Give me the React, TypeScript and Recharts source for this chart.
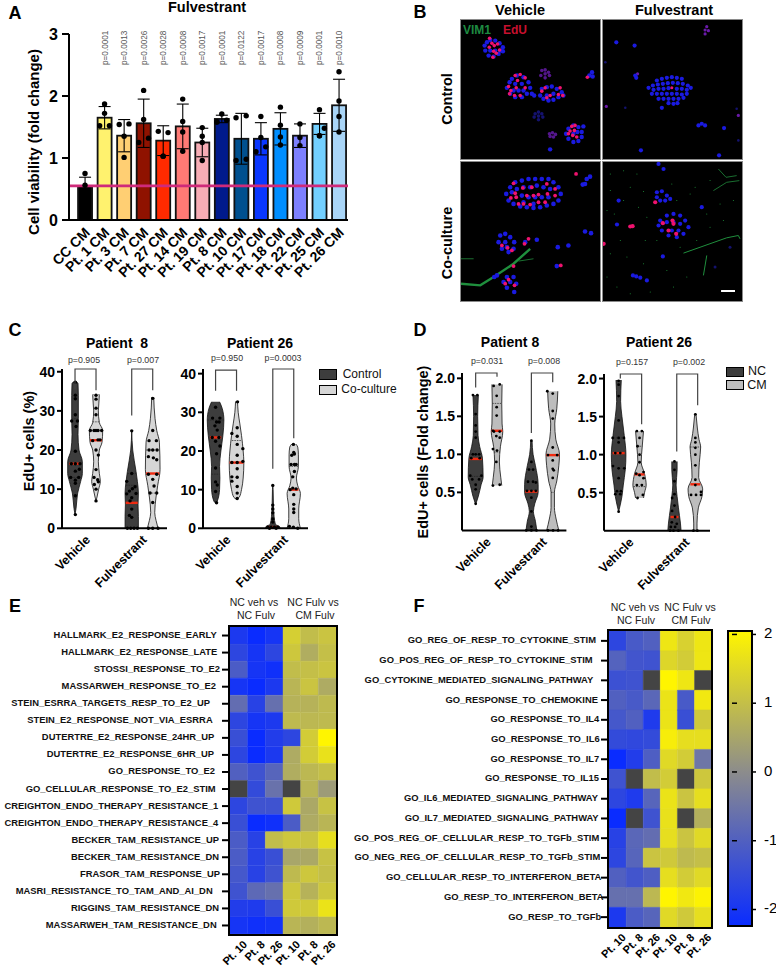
import React from "react";
import {
  Area,
  Bar,
  BarChart,
  Cell,
  ComposedChart,
  ErrorBar,
  ReferenceLine,
  Scatter,
  ScatterChart,
  XAxis,
  YAxis,
} from "recharts";

type Pair = [number, number];

// ---------- panel A ----------
const A_LABELS = ["CC CM", "Pt. 1 CM", "Pt. 3 CM", "Pt. 7 CM", "Pt. 27 CM", "Pt. 14 CM", "Pt. 19 CM", "Pt. 8 CM", "Pt. 10 CM", "Pt. 17 CM", "Pt. 18 CM", "Pt. 22 CM", "Pt. 25 CM", "Pt. 26 CM"];
const A_MEANS = [0.55, 1.65, 1.36, 1.56, 1.28, 1.51, 1.25, 1.63, 1.31, 1.31, 1.47, 1.36, 1.55, 1.85];
const A_SD = [0.14, 0.18, 0.26, 0.39, 0.24, 0.36, 0.23, 0.06, 0.41, 0.26, 0.26, 0.19, 0.17, 0.42];
const A_COLORS = ["#000000", "#fff26e", "#ffcf73", "#8f1200", "#ff2a00", "#ff7a75", "#f7adb5", "#001a8c", "#00508f", "#0a37ff", "#008eff", "#7d80ff", "#73d0ff", "#a9d5f7"];
const A_PVALUES = ["", "p=0.0001", "p=0.0013", "p=0.0026", "p=0.0028", "p=0.0008", "p=0.0017", "p=0.0001", "p=0.0122", "p=0.0017", "p=0.0008", "p=0.0009", "p=0.0001", "p=0.0010"];
const A_DOTS: Pair[][] = [
  [[0, 0.75], [0, 0.56]],
  [[0, 1.87], [0, 1.72], [-0.25, 1.52], [0.25, 1.52]],
  [[-0.25, 1.54], [0.25, 1.55], [0, 1.35], [0, 1.01]],
  [[0, 2.09], [0, 1.62], [-0.25, 1.25], [0.25, 1.32]],
  [[-0.25, 1.43], [0.25, 1.41], [0, 1.03], [0, 1.03]],
  [[0, 1.95], [0, 1.59], [0, 1.42], [0, 1.11]],
  [[0, 1.49], [0, 1.35], [0, 1.25], [0, 0.96]],
  [[0, 1.71], [-0.25, 1.58], [0.25, 1.61], [-0.25, 1.58]],
  [[-0.27, 1.65], [0.25, 1.68], [-0.27, 0.96], [0.25, 0.98]],
  [[0, 1.67], [0, 1.33], [0.25, 1.18], [-0.25, 1.1]],
  [[0, 1.82], [0, 1.53], [0, 1.34], [0, 1.21]],
  [[0, 1.55], [0, 1.33], [0, 1.2]],
  [[0, 1.78], [0.25, 1.48], [0, 1.36], [0, 1.36]],
  [[0, 2.39], [0, 1.92], [0, 1.67], [0, 1.42]],
];

// ---------- panels C and D: violin outlines are [value, half width], dots are [offset, value] ----------
interface Violin {
  pos: number;
  outline: Pair[];
  dots: Pair[];
  median: Pair;
  quartiles: Pair[];
}

const C8: Violin[] = [
  {
    pos: 1,
    outline: [[37.5, 3], [37, 9], [34, 10], [28, 10], [24, 9], [20, 12], [17, 22], [14, 22], [12, 17], [9, 8], [5, 3], [3.5, 0]],
    dots: [[1, 37.3], [1, 34], [1, 33.1], [1, 29], [-10, 27.4], [7, 27.4], [3, 26], [1, 19.7], [-11, 16.5], [1, 16.5], [15, 16.5], [13, 15.1], [1, 14.6], [-13, 13], [11, 13], [1, 12.3], [1, 11.5], [1, 8.3], [1, 3.5]],
    median: [16.5, 17],
    quartiles: [[28, 10], [13, 20]],
  },
  {
    pos: 2,
    outline: [[34.3, 8], [34, 10], [30, 7], [27, 10], [25, 20], [22, 18], [20, 10], [17, 7], [14, 10], [12, 13], [10, 8], [8, 3], [7, 0]],
    dots: [[0, 34], [0, 33], [0, 30.7], [0, 29], [-17, 25], [-6, 25], [6, 25], [17, 25], [0, 25], [-10, 22.4], [6, 22.6], [12, 22.6], [0, 20], [7, 18.7], [0, 15], [-6, 13], [5, 12.4], [7, 11.9], [-5, 11.2], [0, 10], [0, 7]],
    median: [22.5, 18],
    quartiles: [[27.2, 10]],
  },
  {
    pos: 3.7,
    outline: [[25, 0], [20, 3], [14.5, 13], [12, 17], [9, 20], [6, 19], [3, 20], [0, 20]],
    dots: [[0, 24.9], [0, 14], [-15, 12], [10, 10.6], [2, 10.1], [-7, 9.5], [13, 8.9], [-15, 8.8], [0, 7.8], [-5, 7], [0, 4.9], [-7, 3.3], [0, 2.8], [-13, 0], [-3, 0], [7, 0], [17, 0]],
    median: [6.5, 18],
    quartiles: [[14, 13], [11, 17]],
  },
  {
    pos: 4.7,
    outline: [[33.5, 3], [28, 7], [25, 12], [22, 20], [15, 22], [11, 15], [8, 10], [4, 6], [2, 10], [0, 16]],
    dots: [[0, 33.2], [0, 25], [-11, 22.4], [11, 22.4], [-11, 20], [0, 20], [13, 20], [-13, 18.3], [2, 18], [12, 17.5], [-13, 13.8], [12, 13.8], [0, 12.5], [4, 10.8], [-8, 9], [12, 9], [0, 6.6], [-13, 0], [0, 0], [16, 0]],
    median: [14, 20],
    quartiles: [[20, 20], [9, 12]],
  },
];

const C26: Violin[] = [
  {
    pos: 1,
    outline: [[32.7, 12], [31, 20], [28, 25], [24, 22], [20, 16], [16, 12], [13, 13], [10, 12], [7, 5], [6.5, 0]],
    dots: [[0, 31.3], [-9, 28.5], [13, 28.5], [3, 27.5], [11, 27.5], [-2, 26.5], [5, 25.4], [-10, 23.5], [10, 23.5], [0, 22.5], [13, 21.3], [3, 19.3], [0, 15.6], [0, 12], [5, 11.2], [0, 9.5], [3, 6.6]],
    median: [23.5, 17],
    quartiles: [[28, 24], [14, 12]],
  },
  {
    pos: 2,
    outline: [[32.8, 3], [30, 5], [27, 10], [24, 15], [20, 20], [17, 22], [13, 20], [10, 15], [8, 8], [7.5, 0]],
    dots: [[3, 32.7], [2, 26], [-14, 24.5], [2, 23.8], [2, 21.7], [19, 20.6], [2, 18.9], [-14, 17], [2, 17], [19, 17.3], [2, 15.4], [-14, 13.3], [2, 13.2], [-14, 12.2], [2, 10.8], [2, 9.1], [2, 7.7]],
    median: [17, 21],
    quartiles: [[22.7, 14]],
  },
  {
    pos: 3.73,
    outline: [[11, 0], [10, 1], [6, 2], [3, 4], [1, 8], [0.5, 20], [0, 22]],
    dots: [[0, 11.1], [0, 6], [0, 5], [0, 4], [0, 2.4], [0, 1.6], [-15, 0.3], [-5, 0.3], [5, 0.3], [15, 0.3], [-10, 0], [10, 0]],
    median: [0.3, 18],
    quartiles: [],
  },
  {
    pos: 4.73,
    outline: [[21.8, 6], [21, 12], [19, 14], [16, 14], [13, 8], [11, 12], [9, 20], [5, 15], [2.5, 15], [0, 20]],
    dots: [[-1, 21.7], [0, 19.6], [-6, 18.9], [2, 19.2], [-8, 16.5], [2, 16.5], [7, 16.5], [2, 14.7], [-3, 13.3], [-3, 10.4], [-11, 10], [7, 10.2], [0, 8.7], [0, 6.2], [0, 5], [0, 4.1], [-13, 0.5], [-1, 0.3], [12, 0]],
    median: [10, 14],
    quartiles: [[16, 14]],
  },
];

const D8: Violin[] = [
  {
    pos: 1,
    outline: [[1.78, 8], [1.5, 6], [1.25, 7], [1.1, 12], [0.95, 20], [0.7, 22], [0.6, 16], [0.45, 8], [0.34, 0]],
    dots: [[-8, 1.78], [5, 1.78], [0, 1.53], [0, 1.38], [0, 1.3], [0, 1.22], [-8, 1], [0, 1], [10, 1], [-13, 0.95], [12, 0.95], [-16, 0.72], [17, 0.72], [-10, 0.67], [10, 0.67], [0, 0.6], [0, 0.54], [0, 0.35]],
    median: [0.94, 18],
    quartiles: [[1, 16], [0.71, 20]],
  },
  {
    pos: 2,
    outline: [[1.92, 15], [1.67, 14], [1.4, 15], [1.3, 17], [1.1, 10], [0.9, 7], [0.7, 11], [0.59, 14]],
    dots: [[-10, 1.9], [8, 1.92], [-1, 1.77], [-1, 1.62], [-1, 1.51], [-9, 1.3], [8, 1.3], [-12, 1.31], [-2, 1.24], [8, 1.22], [-12, 1.07], [0, 1.05], [-2, 0.9], [-12, 0.59], [8, 0.6]],
    median: [1.31, 16],
    quartiles: [[1.67, 14], [1.03, 9]],
  },
  {
    pos: 3.61,
    outline: [[1.18, 2], [1, 5], [0.85, 12], [0.6, 20], [0.5, 20], [0.35, 10], [0.25, 6], [0.12, 12], [0, 16]],
    dots: [[0, 1.18], [0, 0.9], [-7, 0.8], [5, 0.8], [-10, 0.64], [5, 0.64], [13, 0.63], [-13, 0.52], [0, 0.52], [13, 0.52], [0, 0.43], [0, 0.25], [0, 0.05], [-15, 0], [0, 0], [15, 0]],
    median: [0.51, 18],
    quartiles: [],
  },
  {
    pos: 4.61,
    outline: [[1.83, 15], [1.6, 12], [1.4, 6], [1.2, 9], [1, 20], [0.85, 18], [0.65, 12], [0.5, 5], [0.3, 5], [0.15, 10], [0, 18]],
    dots: [[-16, 1.83], [0, 1.8], [0, 1.57], [0, 1.47], [0, 1.09], [-14, 0.99], [13, 0.99], [0, 0.92], [0, 0.81], [3, 0.79], [0, 0.69], [-14, 0], [1, 0], [16, 0]],
    median: [0.99, 19],
    quartiles: [[0.5, 5]],
  },
];

const D26: Violin[] = [
  {
    pos: 1,
    outline: [[1.98, 8], [1.7, 6], [1.5, 10], [1.25, 17], [1, 22], [0.8, 20], [0.6, 14], [0.45, 10], [0.25, 0]],
    dots: [[0, 1.97], [0, 1.92], [0, 1.77], [0, 1.45], [-18, 1.22], [0, 1.22], [16, 1.22], [0, 1.16], [-10, 1.02], [5, 1.02], [-17, 0.85], [17, 0.82], [0, 0.82], [0, 0.69], [-5, 0.52], [7, 0.52], [-10, 0.48], [5, 0.48], [0, 0.25]],
    median: [1.02, 18],
    quartiles: [[1.22, 16]],
  },
  {
    pos: 2,
    outline: [[1.31, 12], [1.1, 8], [0.9, 5], [0.75, 15], [0.6, 20], [0.5, 15], [0.43, 12]],
    dots: [[-8, 1.31], [7, 1.31], [0, 1.22], [-6, 1.11], [0, 1], [0, 0.9], [-10, 0.75], [12, 0.77], [0, 0.73], [12, 0.69], [-8, 0.6], [7, 0.6], [-6, 0.43], [10, 0.47]],
    median: [0.74, 15],
    quartiles: [[1.11, 8], [0.58, 18]],
  },
  {
    pos: 3.67,
    outline: [[0.91, 8], [0.8, 8], [0.6, 5], [0.45, 8], [0.3, 12], [0.1, 18], [0, 20]],
    dots: [[0, 0.91], [0, 0.8], [0, 0.65], [0, 0.48], [-7, 0.43], [0, 0.33], [-7, 0.26], [2, 0.18], [-8, 0.11], [7, 0.09], [-11, 0.05], [2, 0.05], [-13, 0], [-3, 0], [12, 0]],
    median: [0.18, 12],
    quartiles: [],
  },
  {
    pos: 4.67,
    outline: [[1.53, 2], [1.35, 6], [1.2, 11], [1.1, 16], [0.9, 12], [0.7, 10], [0.55, 22], [0.45, 20], [0.3, 9], [0.1, 5], [0, 5]],
    dots: [[0, 1.53], [0, 1.22], [0, 1.16], [0, 1.09], [0, 1], [0, 0.86], [0, 0.67], [0, 0.6], [-13, 0.47], [2, 0.47], [17, 0.47], [17, 0.51], [-6, 0], [6, 0]],
    median: [0.61, 15],
    quartiles: [[1.1, 16]],
  },
];

// [left pos, right pos, top, left leg end, right leg end]
const C8_BRACKETS = [[1, 2, 40.7, 35.6, 35.3], [3.7, 4.7, 40.7, 28.8, 35.3]];
const C26_BRACKETS = [[1, 2, 40.9, 35.6, 35.6], [3.73, 4.73, 41.2, 15.4, 23.3]];
const D8_BRACKETS = [[1, 2, 2.07, 1.88, 2.02], [3.61, 4.61, 2.07, 1.28, 1.95]];
const D26_BRACKETS = [[1.08, 2.1, 2.06, 2.0, 1.4], [3.78, 4.78, 2.06, 1.04, 1.65]];

// ---------- panels E and F ----------
const E_LABELS = ["HALLMARK_E2_RESPONSE_EARLY", "HALLMARK_E2_RESPONSE_LATE", "STOSSI_RESPONSE_TO_E2", "MASSARWEH_RESPONSE_TO_E2", "STEIN_ESRRA_TARGETS_RESP_TO_E2_UP", "STEIN_E2_RESPONSE_NOT_VIA_ESRRA", "DUTERTRE_E2_RESPONSE_24HR_UP", "DUTERTRE_E2_RESPONSE_6HR_UP", "GO_RESPONSE_TO_E2", "GO_CELLULAR_RESPONSE_TO_E2_STIM", "CREIGHTON_ENDO_THERAPY_RESISTANCE_1", "CREIGHTON_ENDO_THERAPY_RESISTANCE_4", "BECKER_TAM_RESISTANCE_UP", "BECKER_TAM_RESISTANCE_DN", "FRASOR_TAM_RESPONSE_UP", "MASRI_RESISTANCE_TO_TAM_AND_AI_DN", "RIGGINS_TAM_RESISTANCE_DN", "MASSARWEH_TAM_RESISTANCE_DN"];
const E_LABEL_END = [650, 652, 660, 648, 630, 638, 643, 642, 645, 647, 655, 655, 657, 657, 660, 638, 657, 650];
const E_VALUES: (number | null)[][] = [
  [-1.9, -2.2, -2.0, 1.3, 0.95, 1.1],
  [-1.6, -2.0, -1.6, 1.15, 0.65, 1.0],
  [-1.1, -2.0, -2.1, 0.95, 1.0, 1.1],
  [-2.0, -2.2, -1.9, 0.8, 1.1, 0.6],
  [-0.7, -1.7, -0.65, 0.75, 0.75, 0.9],
  [-1.6, -2.0, -1.9, 0.9, 0.85, 0.9],
  [-1.4, -2.2, -1.8, -1.6, 1.25, 2.05],
  [-1.6, -2.2, -1.9, 0.6, 1.25, 1.65],
  [-1.0, -1.3, -0.9, 0.65, 0.85, 1.0],
  [null, -1.5, -0.6, null, 0.8, 0.3],
  [-1.6, -1.3, -1.3, 1.2, 0.55, 1.05],
  [-1.4, -2.2, -2.1, -1.1, 0.6, 0.8],
  [-1.1, -1.7, 0.95, 1.15, 1.1, 1.6],
  [-1.1, -1.7, -1.4, 0.5, 0.55, 1.05],
  [-1.2, -1.7, -1.3, 0.9, 1.15, 1.0],
  [-1.3, -0.8, -0.65, 1.15, 0.75, 1.15],
  [-1.8, -1.85, -1.4, 1.2, 1.2, 1.7],
  [-2.0, -2.1, -2.05, 0.8, 0.7, 0.85],
];

const F_LABELS = ["GO_REG_OF_RESP_TO_CYTOKINE_STIM", "GO_POS_REG_OF_RESP_TO_CYTOKINE_STIM", "GO_CYTOKINE_MEDIATED_SIGNALING_PATHWAY", "GO_RESPONSE_TO_CHEMOKINE", "GO_RESPONSE_TO_IL4", "GO_RESPONSE_TO_IL6", "GO_RESPONSE_TO_IL7", "GO_RESPONSE_TO_IL15", "GO_IL6_MEDIATED_SIGNALING_PATHWAY", "GO_IL7_MEDIATED_SIGNALING_PATHWAY", "GO_POS_REG_OF_CELLULAR_RESP_TO_TGFb_STIM", "GO_NEG_REG_OF_CELLULAR_RESP_TO_TGFb_STIM", "GO_CELLULAR_RESP_TO_INTERFERON_BETA", "GO_RESP_TO_INTERFERON_BETA", "GO_RESP_TO_TGFb"];
const F_LABEL_END = [587, 577, 579, 593, 597, 598, 597, 596, 593, 595, 597, 600, 603, 610, 603];
const F_VALUES: (number | null)[][] = [
  [-1.6, -1.15, -1.0, 1.75, 1.35, 1.75],
  [-0.95, -1.25, -1.3, 1.45, 1.25, 1.75],
  [-1.35, -1.3, null, 2.05, 1.75, null],
  [-1.0, -1.15, -0.85, 1.7, -1.15, 1.8],
  [-1.2, -1.0, -1.85, 1.7, -1.4, 1.2],
  [-1.5, -1.55, -1.5, 1.9, 1.6, 1.6],
  [-2.2, -1.8, -1.05, 1.5, 1.25, -0.5],
  [-1.3, null, 0.95, 1.25, null, 1.15],
  [-1.6, -1.85, -0.9, 1.7, 1.1, 1.6],
  [-2.2, null, -1.3, 1.65, null, 0.7],
  [-1.7, -0.85, -0.7, 1.6, 1.1, 1.5],
  [-1.6, -0.9, 1.1, 1.2, 0.9, 1.0],
  [-1.0, -1.25, -1.05, 1.6, 1.25, 1.5],
  [-0.65, -0.65, 0.85, 2.05, 1.8, 2.0],
  [-1.9, -1.1, -0.9, 1.5, 1.2, 1.6],
];
const HEAT_COLUMNS = ["Pt. 10", "Pt. 8", "Pt. 26", "Pt. 10", "Pt. 8", "Pt. 26"];
const SCALE_TICKS = [2, 1, 0, -1, -2];
const SCALE_RANGE: Pair = [-2.24, 2.05];

// ---------- panel B: nuclei positions ----------
const TL_BLUE: Pair[] = [[290, 125], [300, 118], [315, 120], [328, 128], [338, 140], [338, 152], [325, 160], [310, 168], [295, 165], [285, 150], [283, 135], [300, 150], [315, 150], [330, 150], [365, 235], [380, 225], [400, 230], [415, 245], [420, 262], [410, 280], [395, 290], [375, 290], [360, 280], [350, 262], [358, 245], [375, 250], [395, 250], [400, 270], [385, 270], [370, 270], [455, 265], [470, 260], [485, 258], [500, 265], [515, 275], [520, 285], [505, 290], [490, 298], [475, 300], [460, 295], [450, 285], [470, 285], [490, 280], [432, 285], [425, 280], [535, 385], [550, 375], [565, 380], [575, 395], [575, 410], [565, 422], [550, 425], [535, 415], [528, 400], [550, 400], [562, 395], [606, 215], [608, 228], [598, 225], [480, 447], [580, 378]];
const TL_PINK: Pair[] = [[298, 113], [305, 128], [322, 130], [312, 135], [297, 140], [310, 152], [328, 148], [308, 170], [318, 158], [375, 225], [390, 222], [405, 232], [382, 240], [355, 258], [378, 262], [358, 280], [373, 285], [390, 285], [405, 262], [362, 270], [455, 272], [510, 262], [480, 285], [505, 282], [470, 292], [518, 285], [465, 262], [545, 378], [555, 375], [553, 390], [540, 392], [548, 405], [560, 410], [535, 400], [592, 230]];
const TL_PURPLE: Pair[] = [[455, 210], [465, 208], [475, 215], [478, 225], [465, 232], [452, 225], [465, 220], [478, 400], [487, 397], [496, 402], [490, 410], [480, 408]];
const TL_DIM: Pair[] = [[435, 340], [445, 335], [455, 340], [458, 350], [445, 358], [432, 350], [445, 347]];

const TR_BLUE: Pair[] = [[800, 240], [815, 235], [830, 232], [845, 230], [860, 232], [875, 235], [788, 255], [803, 252], [818, 250], [833, 248], [848, 247], [863, 248], [878, 250], [893, 255], [775, 262], [790, 268], [805, 265], [820, 265], [835, 263], [860, 265], [875, 265], [890, 268], [902, 262], [785, 280], [800, 280], [815, 280], [830, 280], [845, 280], [860, 280], [875, 282], [890, 280], [805, 295], [820, 295], [835, 295], [850, 295], [865, 295], [880, 292], [835, 308], [850, 310], [862, 308], [815, 322], [678, 125], [733, 135], [735, 225], [738, 232], [935, 370], [925, 375], [945, 375], [1002, 383], [987, 465], [752, 450]];
const TR_PINK: Pair[] = [[845, 262]];
const TR_PURPLE: Pair[] = [[742, 220], [648, 318], [945, 88], [955, 90], [945, 100], [950, 78], [1045, 345]];
const TR_DIM: Pair[] = [[1040, 325], [1045, 420], [645, 185], [705, 322]];

const BL_BLUE: Pair[] = [[360, 560], [375, 545], [395, 540], [415, 535], [435, 535], [455, 535], [475, 535], [490, 545], [505, 560], [512, 580], [505, 600], [490, 610], [470, 615], [450, 620], [430, 622], [410, 620], [390, 618], [370, 610], [355, 600], [348, 580], [380, 565], [400, 560], [420, 560], [440, 555], [460, 560], [480, 565], [395, 585], [415, 590], [435, 590], [455, 590], [475, 590], [400, 605], [430, 610], [365, 575], [330, 705], [345, 700], [360, 710], [372, 725], [370, 745], [355, 755], [335, 745], [325, 725], [345, 725], [350, 740], [405, 725], [440, 718], [585, 693], [603, 698], [503, 740], [535, 735], [500, 797], [590, 535], [600, 528], [585, 550], [578, 552], [340, 845], [350, 830], [370, 830], [378, 850], [372, 875], [350, 862], [360, 845], [320, 825], [312, 830]];
const BL_PINK: Pair[] = [[370, 548], [375, 578], [362, 592], [398, 562], [425, 560], [470, 550], [495, 565], [378, 590], [410, 585], [430, 585], [445, 582], [472, 580], [420, 612], [400, 610], [385, 610], [445, 605], [465, 605], [495, 585], [335, 735], [352, 742], [365, 750], [415, 715], [403, 730], [512, 795], [558, 520], [370, 797], [355, 838], [373, 855], [345, 850]];
const BL_FIBER_A: Pair[] = [[212, 850], [270, 855], [310, 830], [370, 790], [420, 745]];
const BL_FIBER_B: Pair[] = [[212, 775], [250, 775]];
const BL_FIBER_C: Pair[] = [[385, 782], [430, 775]];

const BR_BLUE: Pair[] = [[810, 660], [830, 645], [850, 640], [870, 645], [885, 660], [895, 680], [880, 700], [860, 710], [835, 705], [815, 690], [805, 675], [830, 665], [850, 665], [870, 670], [845, 690], [865, 690], [800, 575], [815, 572], [830, 585], [840, 595], [810, 600], [825, 600], [800, 590], [685, 600], [935, 620], [818, 768], [738, 828], [728, 825], [750, 832], [770, 840], [820, 505], [805, 490], [680, 672]];
const BR_PINK: Pair[] = [[818, 668], [847, 660], [850, 670], [835, 690], [858, 700], [795, 605], [727, 677], [720, 678], [640, 730]];
const BR_DIM: Pair[] = [[1020, 740], [975, 800]];
const BR_SPECKS: Pair[] = [[660, 570], [700, 600], [760, 573], [650, 630], [672, 640], [720, 560], [745, 620], [770, 650], [690, 720], [660, 760], [710, 770], [765, 720], [760, 790], [800, 720], [860, 600], [900, 580], [950, 640], [990, 610], [960, 680], [1000, 660], [1030, 600], [920, 720], [870, 740], [830, 810], [890, 830], [850, 860], [680, 860], [650, 830], [720, 880], [780, 875], [915, 560], [845, 550], [740, 520], [700, 510], [660, 520], [960, 540]];
const BR_FIBER_A: Pair[] = [[880, 758], [1010, 712], [1045, 705], [1050, 715]];
const BR_FIBER_B: Pair[] = [[950, 765], [940, 825]];
const BR_FIBER_C: Pair[] = [[970, 570], [1010, 545], [1048, 540]];
const BR_FIBER_D: Pair[] = [[985, 505], [1008, 530], [1040, 525]];

// ---------- helpers ----------
const FONT = "'Liberation Sans', Arial, sans-serif";
const DARK = "#3d3d3d";
const LIGHT_C = "#d6d6d6";
const LIGHT_D = "#bdbdbd";
const MISSING = "#444444";

const mix = (a: number[], b: number[], t: number) => {
  const c = a.map((v, i) => Math.round(v + (b[i] - v) * t));
  return `rgb(${c[0]},${c[1]},${c[2]})`;
};
const heatColor = (z: number | null) => {
  if (z === null) return MISSING;
  const blue = [10, 44, 255];
  const gray = [140, 140, 140];
  const yellow = [255, 245, 0];
  return z < 0 ? mix(gray, blue, Math.min(-z / 2.2, 1)) : mix(gray, yellow, Math.min(z / 2.05, 1));
};

const toXY = (pts: Pair[]) => pts.map(([x, y]) => ({ x, y }));
const dot = (r: number, fill: string) => (p: any) => <circle cx={p.cx} cy={p.cy} r={r} fill={fill} />;
const noDot = () => <g />;

function Txt({ x, y, size, bold, color = "#000", rotate = 0, children }: any) {
  return (
    <div
      style={{
        position: "absolute",
        left: x,
        top: y,
        fontSize: size,
        fontWeight: bold ? 700 : 400,
        color,
        whiteSpace: "pre",
        lineHeight: 1,
        transform: `translate(-50%,-50%) rotate(${rotate}deg)`,
      }}
    >
      {children}
    </div>
  );
}

function Box({ left, top, width, height, children }: any) {
  return <div style={{ position: "absolute", left, top, width, height }}>{children}</div>;
}

// ---------- panel A ----------
function BarPanel() {
  const bars = A_LABELS.map((label, i) => ({ x: i, label, mean: A_MEANS[i], sd: A_SD[i] }));
  const dots = A_DOTS.flatMap((row, i) => row.map(([dx, y]) => ({ x: i + dx, y })));
  const pLabels = A_PVALUES.map((p, i) => ({ x: i, y: 2.5, p }));
  return (
    <Box left={9} top={24} width={345} height={286}>
      <ComposedChart width={345} height={286} data={bars} margin={{ top: 10, right: 6, bottom: 0, left: 0 }}>
        <XAxis
          dataKey="x"
          type="number"
          domain={[-0.82, 13.46]}
          ticks={bars.map((b) => b.x)}
          interval={0}
          height={90}
          tickLine={false}
          axisLine={{ stroke: "#000", strokeWidth: 2 }}
          tick={(p: any) => (
            <text
              transform={`translate(${p.x + 3},${p.y + 3}) rotate(-45)`}
              textAnchor="end"
              dominantBaseline="middle"
              fontSize={14}
              fontWeight={700}
              fill="#000"
            >
              {A_LABELS[p.payload.value]}
            </text>
          )}
        />
        <YAxis
          dataKey="y"
          type="number"
          domain={[0, 3]}
          ticks={[0, 1, 2, 3]}
          width={60}
          tickSize={7}
          tickMargin={4}
          axisLine={{ stroke: "#000", strokeWidth: 2 }}
          tickLine={{ stroke: "#000", strokeWidth: 2 }}
          tick={{ fontSize: 16, fontWeight: 700, fill: "#000" }}
        />
        <Bar
          dataKey="mean"
          stroke="#111"
          strokeWidth={1.8}
          isAnimationActive={false}
          shape={(p: any) => <rect x={p.x + p.width / 2 - 7} y={p.y} width={14} height={p.height} fill={p.fill} stroke="#111" strokeWidth={1.8} />}
        >
          {A_COLORS.map((c, i) => (
            <Cell key={i} fill={c} />
          ))}
          <ErrorBar dataKey="sd" width={6} stroke="#000" strokeWidth={1.1} isAnimationActive={false} />
        </Bar>
        <Scatter data={dots} shape={dot(2.7, "#000")} isAnimationActive={false} />
        <Scatter
          data={pLabels}
          isAnimationActive={false}
          shape={(p: any) => (
            <text
              transform={`translate(${p.cx + 3},${p.cy}) rotate(-90)`}
              fontSize={8.2}
              fill="#555"
              textAnchor="start"
            >
              {p.payload.p}
            </text>
          )}
        />
        <ReferenceLine y={0.55} stroke="#cf2a7a" strokeWidth={2.6} ifOverflow="visible" />
      </ComposedChart>
    </Box>
  );
}

// ---------- panel B ----------
function Micro({ left, top, xd, yd, layers, fibers = [], bar }: any) {
  return (
    <div style={{ position: "absolute", left, top, width: 139, height: 139, background: "#000", outline: "1px solid #8a8a8a" }}>
      <ScatterChart width={139} height={139} margin={{ top: 0, right: 0, bottom: 0, left: 0 }}>
        <XAxis dataKey="x" type="number" domain={xd} hide />
        <YAxis dataKey="y" type="number" domain={yd} reversed hide />
        {fibers.map((f: any, i: number) => (
          <Scatter key={`f${i}`} data={toXY(f.pts)} shape={noDot} line={{ stroke: f.color, strokeWidth: f.w }} isAnimationActive={false} />
        ))}
        {layers.map((l: any, i: number) => (
          <Scatter key={i} data={toXY(l.pts)} shape={dot(l.r, l.color)} isAnimationActive={false} />
        ))}
        {bar && <Scatter data={toXY(bar)} shape={noDot} line={{ stroke: "#fff", strokeWidth: 2 }} isAnimationActive={false} />}
      </ScatterChart>
    </div>
  );
}

// ---------- panels C and D ----------
function ViolinChart({ left, top, plotW, plotH, domainX, domainY, ticks, violins, brackets, lightFill, tickFmt, dotR = 1.7 }: any) {
  const marginTop = 16;
  const axisW = 36;
  const bottom = 80;
  const k = 1 / 63;
  const labelPos = [(violins[0].pos + violins[1].pos) / 2, (violins[2].pos + violins[3].pos) / 2];
  return (
    <Box left={left - axisW} top={top - marginTop} width={plotW + axisW + 6} height={plotH + marginTop + bottom}>
      <ComposedChart
        layout="vertical"
        width={plotW + axisW + 6}
        height={plotH + marginTop + bottom}
        margin={{ top: marginTop, right: 6, bottom: 0, left: 0 }}
      >
        <XAxis
          dataKey="x"
          type="number"
          domain={domainX}
          ticks={labelPos}
          interval={0}
          height={bottom}
          tickLine={false}
          axisLine={{ stroke: "#000", strokeWidth: 2 }}
          tick={(p: any) => (
            <text
              transform={`translate(${p.x + 3},${p.y + 2}) rotate(-45)`}
              textAnchor="end"
              dominantBaseline="middle"
              fontSize={12.5}
              fontWeight={700}
              fill="#000"
            >
              {labelPos[0] === p.payload.value ? "Vehicle" : "Fulvestrant"}
            </text>
          )}
        />
        <YAxis
          dataKey="y"
          type="number"
          reversed
          domain={domainY}
          ticks={ticks}
          interval={0}
          width={axisW}
          tickSize={5}
          tickMargin={2}
          axisLine={{ stroke: "#000", strokeWidth: 2 }}
          tickLine={{ stroke: "#000", strokeWidth: 2 }}
          tickFormatter={tickFmt}
          tick={{ fontSize: 14, fontWeight: 700, fill: "#000" }}
        />
        {violins.map((v: Violin, i: number) => (
          <Area
            key={`a${i}`}
            data={v.outline.map(([y, w]) => ({ y, w }))}
            dataKey={(d: any) => [v.pos - d.w * k, v.pos + d.w * k]}
            type="monotone"
            fill={i % 2 === 0 ? DARK : lightFill}
            fillOpacity={1}
            stroke="#111"
            strokeWidth={0.8}
            dot={false}
            activeDot={false}
            isAnimationActive={false}
          />
        ))}
        {violins.map((v: Violin, i: number) => (
          <ReferenceLine
            key={`m${i}`}
            ifOverflow="visible"
            stroke="#f02a10"
            strokeWidth={2.4}
            segment={[
              { x: v.pos - v.median[1] * k, y: v.median[0] },
              { x: v.pos + v.median[1] * k, y: v.median[0] },
            ]}
          />
        ))}
        {violins.flatMap((v: Violin, i: number) =>
          v.quartiles.map(([y, w], j) => (
            <ReferenceLine
              key={`q${i}-${j}`}
              ifOverflow="visible"
              stroke="#222"
              strokeWidth={0.7}
              strokeDasharray="1.5 1"
              segment={[
                { x: v.pos - w * k, y },
                { x: v.pos + w * k, y },
              ]}
            />
          ))
        )}
        {violins.map((v: Violin, i: number) => (
          <Scatter
            key={`d${i}`}
            data={v.dots.map(([dx, y]) => ({ x: v.pos + dx * k, y }))}
            shape={dot(dotR, "#000")}
            isAnimationActive={false}
          />
        ))}
        {brackets.map((b: number[], i: number) => (
          <Scatter
            key={`b${i}`}
            data={[
              { x: b[0], y: b[3] },
              { x: b[0], y: b[2] },
              { x: b[1], y: b[2] },
              { x: b[1], y: b[4] },
            ]}
            shape={noDot}
            line={{ stroke: "#444", strokeWidth: 1.2 }}
            isAnimationActive={false}
          />
        ))}
      </ComposedChart>
    </Box>
  );
}

// ---------- panels E and F ----------
function HeatMap({ left, top, plotW, plotH, labels, values, labelEnds, labelOrigin, axisW, bottom }: any) {
  const rows = labels.map((label: string) => ({ label, c0: 1, c1: 1, c2: 1, c3: 1, c4: 1, c5: 1 }));
  const colTicks = [0.5, 1.5, 2.5, 3.5, 4.5, 5.5];
  return (
    <>
      <Box left={left - axisW} top={top - 2} width={plotW + axisW + 12} height={plotH + bottom + 2}>
        <BarChart
          layout="vertical"
          width={plotW + axisW + 12}
          height={plotH + bottom + 2}
          data={rows}
          barCategoryGap={0}
          margin={{ top: 2, right: 12, bottom: 0, left: 0 }}
        >
          <XAxis
            type="number"
            domain={[0, 6]}
            ticks={colTicks}
            interval={0}
            height={bottom}
            tickLine={false}
            axisLine={false}
            tick={(p: any) => (
              <text
                transform={`translate(${p.x + 7},${p.y + 1}) rotate(-45)`}
                textAnchor="end"
                dominantBaseline="middle"
                fontSize={11}
                fontWeight={700}
                fill="#000"
              >
                {HEAT_COLUMNS[colTicks.indexOf(p.payload.value)]}
              </text>
            )}
          />
          <YAxis
            type="category"
            dataKey="label"
            width={axisW}
            interval={0}
            tickSize={7}
            tickMargin={0}
            axisLine={false}
            tickLine={false}
            tick={(p: any) => (
              <g>
                <line x1={axisW - 8} x2={axisW} y1={p.y} y2={p.y} stroke="#000" strokeWidth={2} />
                <text
                  x={labelEnds[p.index] / 3 + labelOrigin - (left - axisW)}
                  y={p.y}
                  textAnchor="end"
                  dominantBaseline="middle"
                  fontSize={9.4}
                  fontWeight={700}
                  fill="#111"
                >
                  {p.payload.value}
                </text>
              </g>
            )}
          />
          {HEAT_COLUMNS.map((_, col) => (
            <Bar key={col} dataKey={`c${col}`} stackId="heat" isAnimationActive={false}>
              {values.map((row: (number | null)[], i: number) => (
                <Cell key={i} fill={heatColor(row[col])} stroke={heatColor(row[col])} strokeWidth={0.4} />
              ))}
            </Bar>
          ))}
        </BarChart>
      </Box>
      <div style={{ position: "absolute", left: left - 2, top: top - 2, width: plotW, height: plotH, border: "2px solid #000" }} />
    </>
  );
}

function ColorScale() {
  const stops = [2.05, 1, 0, -1, -2.24];
  const span = SCALE_RANGE[1] - SCALE_RANGE[0];
  return (
    <Box left={727} top={619} width={49} height={319}>
      <BarChart
        width={49}
        height={319}
        data={[{ name: "z", range: SCALE_RANGE }]}
        barCategoryGap={0}
        margin={{ top: 12, right: 0, bottom: 12, left: 1 }}
      >
        <defs>
          <linearGradient id="heatScale" x1="0" y1="0" x2="0" y2="1">
            {stops.map((s) => (
              <stop key={s} offset={`${((SCALE_RANGE[1] - s) / span) * 100}%`} stopColor={heatColor(s)} />
            ))}
          </linearGradient>
        </defs>
        <XAxis dataKey="name" hide />
        <YAxis
          orientation="right"
          type="number"
          domain={SCALE_RANGE}
          ticks={SCALE_TICKS}
          interval={0}
          width={24}
          tickLine={false}
          axisLine={false}
          tick={(p: any) => (
            <g>
              <line x1={p.x - 28} x2={p.x - 23} y1={p.y} y2={p.y} stroke="#000" strokeWidth={1.5} />
              <line x1={p.x - 9} x2={p.x - 4} y1={p.y} y2={p.y} stroke="#000" strokeWidth={1.5} />
              <text x={p.x + 4} y={p.y} dominantBaseline="middle" fontSize={15} fill="#000">
                {p.payload.value}
              </text>
            </g>
          )}
        />
        <Bar dataKey="range" fill="url(#heatScale)" stroke="#000" strokeWidth={2} isAnimationActive={false} />
      </BarChart>
    </Box>
  );
}

export default function App() {
  const blue = "#1a1ae0";
  const pink = "#f0126e";
  return (
    <div style={{ position: "absolute", left: 0, top: 0, width: 776, height: 966, background: "#fff", overflow: "hidden", fontFamily: FONT }}>
      {/* E and F first so the taller upper charts stay on top */}
      <HeatMap left={230} top={627} plotW={106} plotH={307} labels={E_LABELS} values={E_VALUES} labelEnds={E_LABEL_END} labelOrigin={0} axisW={228} bottom={32} />
      <HeatMap left={608.7} top={630.7} plotW={102.6} plotH={296} labels={F_LABELS} values={F_VALUES} labelEnds={F_LABEL_END} labelOrigin={400} axisW={270} bottom={36} />
      <ColorScale />

      {/* A */}
      <Txt x={15} y={13} size={18} bold>A</Txt>
      <Txt x={207} y={7} size={14.5} bold>Fulvestrant</Txt>
      <Txt x={33} y={142} size={15} bold rotate={-90}>Cell viability (fold change)</Txt>
      <BarPanel />

      {/* B */}
      <Txt x={420} y={12} size={18} bold>B</Txt>
      <Txt x={520} y={10} size={14.5} bold>Vehicle</Txt>
      <Txt x={674} y={10} size={14.5} bold>Fulvestrant</Txt>
      <Txt x={447} y={99} size={14.5} bold rotate={-90}>Control</Txt>
      <Txt x={447} y={243} size={14.5} bold rotate={-90}>Co-culture</Txt>
      <Micro left={461} top={19.5} xd={[212, 630]} yd={[58, 476]} layers={[
        { pts: TL_DIM, r: 1.8, color: "#14126e" },
        { pts: TL_PURPLE, r: 1.8, color: "#54168c" },
        { pts: TL_BLUE, r: 2.2, color: blue },
        { pts: TL_PINK, r: 1.8, color: pink },
      ]} />
      <Micro left={603} top={19.5} xd={[638, 1056]} yd={[58, 476]} layers={[
        { pts: TR_DIM, r: 1.3, color: "#14126e" },
        { pts: TR_PURPLE, r: 1.6, color: "#6a1aa8" },
        { pts: TR_BLUE, r: 2.1, color: blue },
        { pts: TR_PINK, r: 1.5, color: pink },
      ]} />
      <Micro left={461} top={161.5} xd={[212, 630]} yd={[484, 902]} fibers={[
        { pts: BL_FIBER_A, color: "#1f8f3d", w: 2.4 },
        { pts: BL_FIBER_B, color: "#1a6f30", w: 1 },
        { pts: BL_FIBER_C, color: "#1a6f30", w: 1 },
      ]} layers={[
        { pts: BL_BLUE, r: 2.3, color: blue },
        { pts: BL_PINK, r: 1.9, color: pink },
      ]} />
      <Micro left={603} top={161.5} xd={[638, 1056]} yd={[484, 902]} bar={[[993, 872], [1035, 872]]} fibers={[
        { pts: BR_FIBER_A, color: "#1f8f3d", w: 1 },
        { pts: BR_FIBER_B, color: "#1f8f3d", w: 1 },
        { pts: BR_FIBER_C, color: "#1a6f30", w: 1 },
        { pts: BR_FIBER_D, color: "#1a6f30", w: 1 },
      ]} layers={[
        { pts: BR_SPECKS, r: 0.5, color: "#1f9a3d" },
        { pts: BR_DIM, r: 1.5, color: "#14126e" },
        { pts: BR_BLUE, r: 2.1, color: blue },
        { pts: BR_PINK, r: 2.1, color: pink },
      ]} />
      <Txt x={477} y={30} size={12} bold color="#1e8a40">VIM1</Txt>
      <Txt x={515} y={30} size={12} bold color="#c8102e">EdU</Txt>

      {/* C */}
      <Txt x={15} y={330} size={18} bold>C</Txt>
      <Txt x={117} y={343} size={14} bold>{"Patient  8"}</Txt>
      <Txt x={260} y={343} size={14} bold>Patient 26</Txt>
      <Txt x={29} y={441} size={14.5} bold rotate={-90}>EdU+ cells (%)</Txt>
      <ViolinChart left={62} top={368.7} plotW={105} plotH={159.3} domainX={[0.38, 5.38]} domainY={[0, 40]} ticks={[0, 10, 20, 30, 40]} violins={C8} brackets={C8_BRACKETS} lightFill={LIGHT_C} />
      <ViolinChart left={203} top={368.7} plotW={105} plotH={159.3} domainX={[0.4, 5.41]} domainY={[0, 40]} ticks={[0, 10, 20, 30, 40]} violins={C26} brackets={C26_BRACKETS} lightFill={LIGHT_C} />
      <Txt x={84} y={360} size={8.8} color="#333">p=0.905</Txt>
      <Txt x={143} y={360} size={8.8} color="#333">p=0.007</Txt>
      <Txt x={227} y={358} size={8.8} color="#333">p=0.950</Txt>
      <Txt x={283} y={358} size={8.8} color="#333">p=0.0003</Txt>
      <div style={{ position: "absolute", left: 319, top: 369, width: 16, height: 9, background: DARK, border: "1px solid #000" }} />
      <div style={{ position: "absolute", left: 319, top: 385, width: 16, height: 8, background: LIGHT_C, border: "1px solid #000" }} />
      <Txt x={362} y={374} size={12} color="#111">Control</Txt>
      <Txt x={369} y={389} size={12} color="#111">Co-culture</Txt>

      {/* D */}
      <Txt x={420} y={330} size={18} bold>D</Txt>
      <Txt x={510} y={342} size={14} bold>Patient 8</Txt>
      <Txt x={659} y={342} size={14} bold>Patient 26</Txt>
      <Txt x={423} y={452} size={14.5} bold rotate={-90}>EdU+ cells (Fold change)</Txt>
      <ViolinChart left={462.3} top={373.3} plotW={104.4} plotH={157.4} domainX={[0.36, 5.25]} domainY={[0, 2]} ticks={[0.5, 1, 1.5, 2]} violins={D8} brackets={D8_BRACKETS} lightFill={LIGHT_D} tickFmt={(v: number) => v.toFixed(1)} dotR={1.4} />
      <ViolinChart left={603.7} top={374} plotW={106} plotH={156.7} domainX={[0.3, 5.37]} domainY={[0, 2]} ticks={[0.5, 1, 1.5, 2]} violins={D26} brackets={D26_BRACKETS} lightFill={LIGHT_D} tickFmt={(v: number) => v.toFixed(1)} dotR={1.4} />
      <Txt x={487} y={361} size={8.8} color="#333">p=0.031</Txt>
      <Txt x={544} y={361} size={8.8} color="#333">p=0.008</Txt>
      <Txt x={632} y={362} size={8.8} color="#333">p=0.157</Txt>
      <Txt x={689} y={362} size={8.8} color="#333">p=0.002</Txt>
      <div style={{ position: "absolute", left: 726, top: 367, width: 16, height: 8, background: DARK, border: "1px solid #000" }} />
      <div style={{ position: "absolute", left: 726, top: 380, width: 16, height: 8, background: LIGHT_D, border: "1px solid #000" }} />
      <Txt x={757} y={371} size={12.5} color="#111">NC</Txt>
      <Txt x={757} y={385} size={12.5} color="#111">CM</Txt>

      {/* E */}
      <Txt x={15} y={606} size={18} bold>E</Txt>
      <Txt x={254} y={602} size={10.5} color="#222">NC veh vs</Txt>
      <Txt x={256} y={615} size={10.5} color="#222">NC Fulv</Txt>
      <Txt x={313} y={602} size={10.5} color="#222">NC Fulv vs</Txt>
      <Txt x={315} y={615} size={10.5} color="#222">CM Fulv</Txt>

      {/* F */}
      <Txt x={419} y={606} size={18} bold>F</Txt>
      <Txt x={635} y={607} size={10.5} color="#222">NC veh vs</Txt>
      <Txt x={636} y={620} size={10.5} color="#222">NC Fulv</Txt>
      <Txt x={690} y={607} size={10.5} color="#222">NC Fulv vs</Txt>
      <Txt x={691} y={620} size={10.5} color="#222">CM Fulv</Txt>
    </div>
  );
}
